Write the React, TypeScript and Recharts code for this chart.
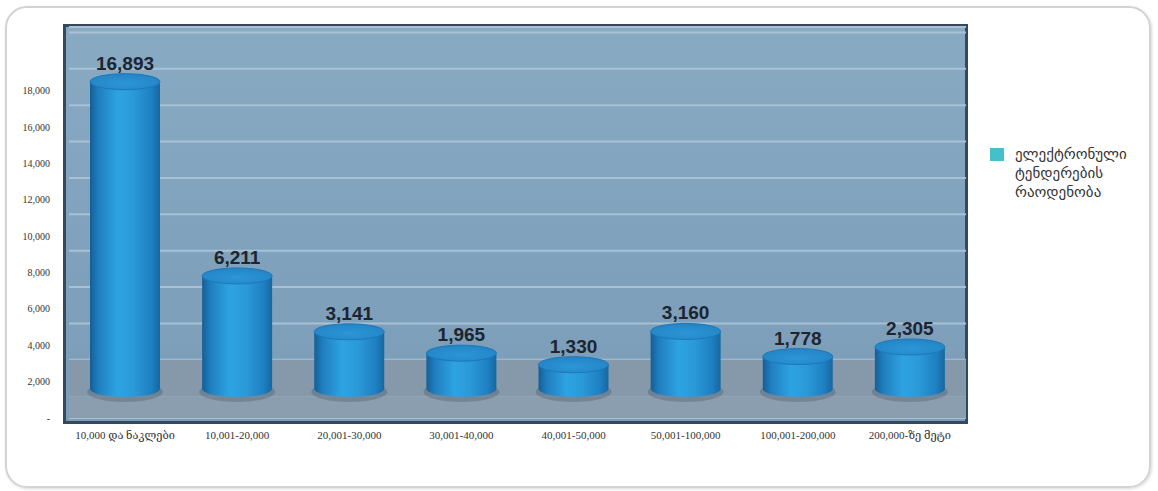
import React from "react";
import {
  BarChart,
  Bar,
  XAxis,
  YAxis,
  CartesianGrid,
  ReferenceArea,
  LabelList,
  Legend,
} from "recharts";

const categories = [
  "10,000 და ნაკლები",
  "10,001-20,000",
  "20,001-30,000",
  "30,001-40,000",
  "40,001-50,000",
  "50,001-100,000",
  "100,001-200,000",
  "200,000-ზე მეტი",
];
const tenderCounts = [16893, 6211, 3141, 1965, 1330, 3160, 1778, 2305];
const valueTicks = [0, 2000, 4000, 6000, 8000, 10000, 12000, 14000, 16000, 18000];
const wallLines = [0, 2000, 4000, 6000, 8000, 10000, 12000, 14000, 16000, 18000, 20000];
const seriesName = "ელექტრონული ტენდერების რაოდენობა";

const tickDomain = [0, 21500];
const wallDomain = [-1200, 20300];
const barDomain = [-1600, 19900];

const data = categories.map((c, i) => ({ category: c, count: tenderCounts[i] }));

const RY = 8;
const FONT = "'Liberation Serif', 'DejaVu Serif', serif";

function Cylinder(props: any) {
  const { x, y, width, height } = props;
  if (x == null || width == null || height == null) return null;
  const rx = width / 2;
  const cx = x + rx;
  const top = y;
  const bottom = y + height;
  const d = `M${x},${top} L${x},${bottom} A${rx},${RY} 0 0 0 ${x + width},${bottom} L${x + width},${top} Z`;
  return (
    <g>
      <ellipse cx={cx} cy={bottom + 3} rx={rx + 3} ry={RY + 2} fill="rgba(30,50,70,0.22)" />
      <path d={d} fill="url(#cylBody)" />
      <ellipse cx={cx} cy={top} rx={rx} ry={RY} fill="url(#cylTop)" stroke="#1d78b6" strokeWidth={1} />
    </g>
  );
}

function ValueLabel(props: any) {
  const { x, y, width, value } = props;
  if (x == null || y == null) return null;
  return (
    <text
      x={x + width / 2}
      y={y - RY - 4}
      textAnchor="middle"
      fontSize={19}
      fontWeight="bold"
      fill="#1c2530"
      fontFamily="'Liberation Sans', Arial, sans-serif"
    >
      {Number(value).toLocaleString("en-US")}
    </text>
  );
}

function LegendContent(props: any) {
  const { payload } = props;
  const item = payload && payload[0];
  if (!item) return null;
  const lines = String(item.value).split(" ");
  return (
    <div style={{ display: "flex", alignItems: "flex-start" }}>
      <div
        style={{
          width: 14,
          height: 13,
          background: item.color,
          marginTop: 3,
          marginRight: 11,
          flex: "none",
        }}
      />
      <div style={{ fontSize: 15, lineHeight: "19px", color: "#333", fontFamily: "'DejaVu Sans', sans-serif" }}>
        {lines.map((l, i) => (
          <div key={i}>{l}</div>
        ))}
      </div>
    </div>
  );
}

export default function App() {
  return (
    <div style={{ position: "absolute", left: 0, top: 0, width: 1158, height: 491, background: "#fff", overflow: "hidden" }}>
      <div
        style={{
          position: "absolute",
          left: 5,
          top: 6,
          width: 1146,
          height: 482,
          border: "2px solid #d3d3d3",
          borderRadius: 22,
          boxSizing: "border-box",
          boxShadow: "1px 1px 3px rgba(0,0,0,0.15)",
        }}
      />
      <div
        style={{
          position: "absolute",
          left: 63,
          top: 24,
          width: 905,
          height: 400,
          border: "3px solid #34495a",
          boxSizing: "border-box",
          background: "linear-gradient(to bottom, #89aac3 0%, #7fa1bb 60%, #7c9db7 100%)",
        }}
      />
      <div style={{ position: "absolute", left: 0, top: 0 }}>
        <BarChart
          width={1158}
          height={491}
          data={data}
          margin={{ top: 27, right: 192, bottom: 43, left: 9 }}
          barSize={70}
        >
          <defs>
            <linearGradient id="cylBody" x1="0" y1="0" x2="1" y2="0">
              <stop offset="0%" stopColor="#155e96" />
              <stop offset="12%" stopColor="#1f7fbf" />
              <stop offset="40%" stopColor="#2ea3e2" />
              <stop offset="62%" stopColor="#2a9ad9" />
              <stop offset="88%" stopColor="#1e7fc1" />
              <stop offset="100%" stopColor="#17679f" />
            </linearGradient>
            <radialGradient id="cylTop" cx="50%" cy="60%" r="60%">
              <stop offset="0%" stopColor="#2c96d6" />
              <stop offset="100%" stopColor="#2384c6" />
            </radialGradient>
          </defs>
          <ReferenceArea yAxisId="wall" y1={0} y2={2000} fill="#8699ab" fillOpacity={1} stroke="none" />
          <ReferenceArea yAxisId="wall" y1={-1200} y2={0} fill="#8b9eb0" fillOpacity={1} stroke="none" />
          <CartesianGrid yAxisId="wall" vertical={false} stroke="#a9c1d3" strokeWidth={2} />
          <XAxis
            dataKey="category"
            axisLine={false}
            tickLine={false}
            tickSize={0}
            tickMargin={13}
            height={30}
            interval={0}
            tick={{ fontSize: 11, fill: "#333", fontFamily: FONT }}
          />
          <YAxis
            yAxisId="tick"
            domain={tickDomain}
            ticks={valueTicks}
            allowDataOverflow
            axisLine={false}
            tickLine={false}
            tickSize={0}
            tickMargin={19}
            width={60}
            tickFormatter={(v: number) => (v === 0 ? "-" : v.toLocaleString("en-US"))}
            tick={{ fontSize: 10, fill: "#333", fontFamily: FONT }}
          />
          <YAxis yAxisId="wall" orientation="right" width={0} hide domain={wallDomain} ticks={wallLines} allowDataOverflow />
          <YAxis yAxisId="bars" orientation="right" width={0} hide domain={barDomain} allowDataOverflow />
          <Legend
            layout="vertical"
            align="center"
            verticalAlign="middle"
            wrapperStyle={{ left: 990, top: 145, width: 160 }}
            content={<LegendContent />}
          />
          <Bar
            yAxisId="bars"
            dataKey="count"
            name={seriesName}
            fill="#45bfc9"
            isAnimationActive={false}
            shape={(p: any) => <Cylinder {...p} />}
          >
            <LabelList dataKey="count" content={<ValueLabel />} />
          </Bar>
        </BarChart>
      </div>
    </div>
  );
}
